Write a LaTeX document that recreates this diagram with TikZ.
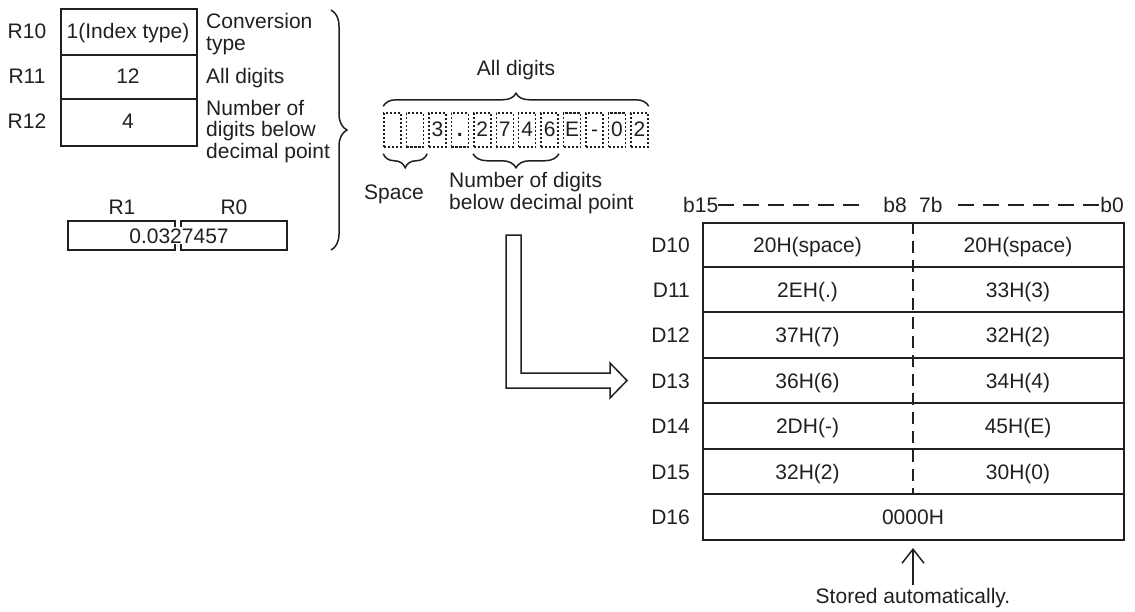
\documentclass[tikz,border=0pt]{standalone}
\usepackage{fontspec}
\setmainfont{Liberation Sans}
\usetikzlibrary{decorations.pathreplacing,arrows.meta}
\definecolor{ink}{HTML}{231F20}
\begin{document}
\begin{tikzpicture}[x=1pt,y=-1pt,
  every node/.style={font=\fontsize{21}{21.5}\selectfont, text=ink, inner sep=0pt},
  frame/.style={draw=ink, line width=1.7pt},
  thin/.style={draw=ink, line width=1.5pt},
  dotbox/.style={draw=ink, line width=1.5pt, dash pattern=on 2.2pt off 1.8pt, minimum width=17, minimum height=34},
  bitdash/.style={draw=ink, line width=1.5pt, dash pattern=on 16pt off 9pt},
  coldash/.style={draw=ink, line width=1.5pt, dash pattern=on 12pt off 7pt},
  bracedec/.style={draw=ink, line width=1.5pt, decorate, decoration={brace, amplitude=#1}},
  lbl/.style={anchor=base},
]
\useasboundingbox (0,0) rectangle (1135,611);

% ---------- left table ----------
\node[frame, anchor=north west, minimum width=136, minimum height=137] (ltab) at (60,8) {};
\draw[frame] (60,55) -- (196,55);
\draw[frame] (60,99) -- (196,99);
\node[lbl] (r10) at (27,38) {R10};
\node[lbl] (r11) at (27,83) {R11};
\node[lbl] (r12) at (27,128) {R12};
\node[lbl] (v10) at (128,38) {1(Index type)};
\node[lbl] (v11) at (128,83) {12};
\node[lbl] (v12) at (128,128) {4};
\node[anchor=base west, align=left] (a10) at (206,50) {Conversion\\type};
\node[anchor=base west] (a11) at (206,83) {All digits};
\node[anchor=base west, align=left] (a12) at (206,158) {Number of\\digits below\\decimal point};

% R1 / R0
\node[lbl] (r1) at (122,214) {R1};
\node[lbl] (r0) at (234,214) {R0};
\draw[thin] (175,227) -- (175,221) -- (68,221) -- (68,250) -- (175,250) -- (175,244);
\draw[thin] (181,227) -- (181,221) -- (287,221) -- (287,250) -- (181,250) -- (181,244);
\node[lbl] (rval) at (179,243) {0.0327457};

% big brace
\draw[bracedec=16] (331,10) -- (331,250);

% ---------- character boxes ----------
\node[lbl] (alld) at (516,75) {All digits};
\foreach \i/\c in {1/{},2/{},3/3,4/{\raisebox{-0.5pt}{\textbf{.}}},5/2,6/7,7/4,8/6,9/E,10/-,11/0,12/2}{
  \node[dotbox] (c\i) at ({392.5+22.45*(\i-1)},130) {};
  \node[lbl] (t\i) at ({392.5+22.45*(\i-1)},136) {\c};
}
\draw[bracedec=13] (c1.north west) ++(0,-6) -- ([yshift=6pt]c12.north east);
\draw[bracedec=14] ([yshift=-6pt]c3.south west) ++(-1,0) -- ([yshift=-6pt]c1.south west);
\draw[bracedec=14] ([yshift=-6pt]c8.south east) -- ([yshift=-6pt]c5.south west);
\node[lbl] (spc) at (394,199) {Space};
\node[anchor=base west, align=left] (ndig) at (449,209) {Number of digits\\below decimal point};

% ---------- hollow arrow ----------
\coordinate (hs) at (506,235);
\draw[thin] (hs) -- (506,388) -- (610,388) -- (610,398) -- (627,380.5) -- (610,363) -- (610,373) -- (521,373) -- (521,235) -- cycle;

% ---------- right table ----------
\node[frame, anchor=north west, minimum width=421, minimum height=317] (rtab) at (702,222) {};
\foreach \y in {267,312,358,403,449,494}{\draw[frame] (702,\y) -- (1123,\y);}
\draw[coldash] (913,222) -- (913,494);

\node[anchor=base west] (b15) at (683,212) {b15};
\node[anchor=base east] (b8) at (907,212) {b8};
\node[anchor=base west] (b7) at (919,212) {7b};
\node[anchor=base east] (b0) at (1124,212) {b0};
\draw[bitdash] (b15.east |- 0,205) -- (867,205);
\draw[bitdash] (958,205) -- (b0.west |- 0,205);

\foreach \n/\yc/\l/\r in {10/244.5/20H(space)/20H(space),11/289.5/2EH(.)/33H(3),12/335/37H(7)/32H(2),13/380.5/36H(6)/34H(4),14/426/2DH(-)/45H(E),15/471.5/32H(2)/30H(0)}{
  \node[anchor=base east] (D\n) at (690,\yc+7.5) {D\n};
  \node[lbl] (L\n) at (807.5,\yc+7.5) {\l};
  \node[lbl] (R\n) at (1018,\yc+7.5) {\r};
}
\node[anchor=base east] (D16) at (690,524) {D16};
\node[lbl] (z16) at (913,524) {0000H};

% stored automatically
\node[lbl] (stored) at (913,603) {Stored automatically.};
\coordinate (uptip) at (913,548);
\draw[thin, -{Straight Barb[length=14pt,width=22pt,line width=1.5pt]}] ([yshift=3pt]stored.north) -- (uptip);
\end{tikzpicture}
\end{document}
